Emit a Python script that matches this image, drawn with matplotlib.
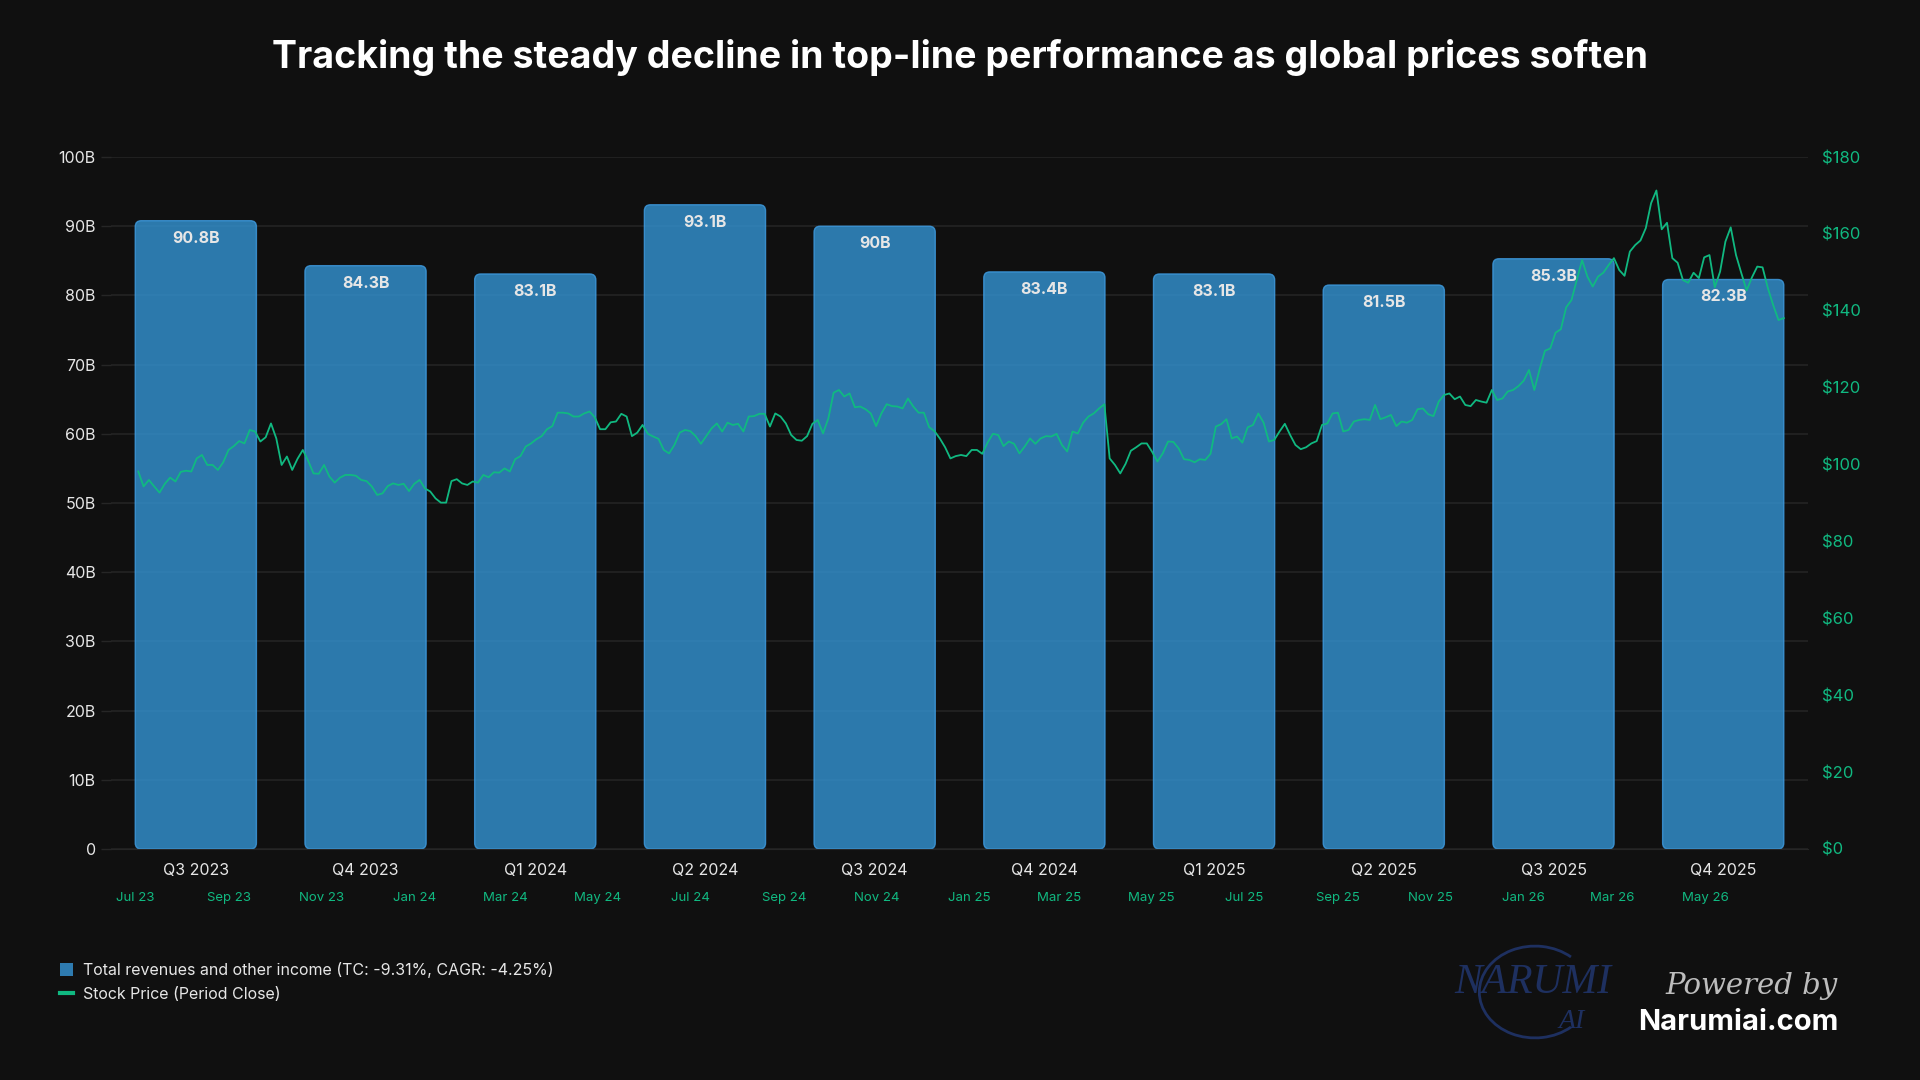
import matplotlib
matplotlib.use("Agg")
import matplotlib.pyplot as plt
import matplotlib.dates as mdates
from matplotlib.patches import Patch, Arc, FancyBboxPatch
from matplotlib.lines import Line2D
import pandas as pd
import numpy as np

plt.rcParams['font.family'] = ['Inter', 'DejaVu Sans']

# ---------------- data ----------------
quarters = ["Q3 2023", "Q4 2023", "Q1 2024", "Q2 2024", "Q3 2024",
            "Q4 2024", "Q1 2025", "Q2 2025", "Q3 2025", "Q4 2025"]
revenue_b = [90.8, 84.3, 83.1, 93.1, 90.0, 83.4, 83.1, 81.5, 85.3, 82.3]

price_start = "2023-07-03"
price_step = "84h"   # twice-weekly samples
stock_price = [
    98.2, 94.3, 96.0, 94.3, 92.7, 95.0, 96.6, 95.6, 98.1, 98.4,
    98.2, 101.6, 102.5, 99.9, 99.9, 98.6, 100.6, 103.8, 104.8, 106.1,
    105.5, 109.0, 108.6, 106.0, 107.1, 110.7, 106.8, 99.9, 102.1, 98.6,
    101.5, 103.8, 101.0, 97.7, 97.6, 99.9, 96.9, 95.3, 96.6, 97.3,
    97.3, 97.1, 96.0, 95.7, 94.3, 92.1, 92.5, 94.4, 95.1, 94.7,
    95.0, 93.1, 95.0, 96.0, 93.8, 93.0, 91.2, 90.1, 90.1, 95.7,
    96.2, 95.1, 94.7,
    95.6, 95.3, 97.3, 96.7, 98.0, 97.9, 99.0, 98.2, 101.4, 102.2,
    104.7, 105.5, 106.6, 107.4, 109.2, 110.0, 113.5, 113.5, 113.3, 112.5,
    112.5, 113.3, 113.8, 112.3, 109.2, 109.2, 111.0, 111.2, 113.2, 112.5,
    107.4, 108.3, 110.3, 108.0, 107.3, 106.7, 103.8, 102.9, 105.1, 108.3,
    109.0, 108.7, 107.4, 105.4, 107.4, 109.4, 110.7, 108.6, 110.9, 110.3,
    110.6, 108.6, 112.5, 112.6, 113.2, 113.2, 109.9, 113.3, 112.5, 110.7,
    107.7, 106.4,
    106.2, 107.4, 110.6, 111.6, 108.1, 112.0, 118.7, 119.4, 117.7, 118.5,
    114.9, 115.1, 114.4, 113.3, 110.0, 113.3, 115.7, 115.2, 115.1, 114.6,
    117.2, 115.1, 113.5, 113.5, 109.7, 108.7, 106.8, 104.5, 101.6, 102.2,
    102.5, 102.2, 103.8, 103.8, 102.8, 105.7, 108.0, 107.7, 104.8, 106.0,
    105.4, 102.9, 104.7, 106.8, 105.4, 106.8, 107.4, 107.3, 108.0, 105.1,
    103.4, 108.6, 108.1, 110.9, 112.5, 113.3, 114.6, 115.7, 101.6, 99.9,
    97.7, 100.2,
    103.6, 104.5, 105.5, 105.5, 103.3, 100.8, 102.9, 106.0, 105.9, 104.2,
    101.4, 101.2, 100.6, 101.4, 101.2, 102.8, 109.9, 110.5, 111.8, 106.8,
    107.3, 105.7, 109.7, 110.3, 113.3, 110.9, 106.0, 106.4, 108.6, 110.6,
    107.7, 105.1, 104.0, 104.5, 105.5, 106.1, 110.3, 110.7, 113.3, 113.5,
    108.6, 109.0, 111.2, 111.6, 111.8, 111.6, 115.5, 111.8, 112.3, 112.9,
    110.0, 111.2, 110.9, 111.6, 114.4, 114.6, 113.1, 112.6, 116.4, 118.1,
    118.5, 117.0,
    117.7, 115.5, 115.2, 116.8, 116.4, 116.1, 119.4, 116.8, 117.2, 119.0,
    119.4, 120.4, 121.8, 124.6, 119.4, 124.8, 129.6, 130.2, 134.3, 135.2,
    140.9, 142.8, 148.0, 153.2, 148.9, 146.3, 148.9, 149.9, 151.9, 153.7,
    150.6, 149.1, 155.4, 157.1, 158.3, 161.5, 168.0, 171.3, 161.2, 162.9,
    153.7, 152.5, 148.0, 147.3, 149.9, 148.5, 153.9, 154.5, 146.1, 150.2,
    158.0, 161.7, 154.5, 149.8, 145.3, 148.7, 151.5, 151.3, 145.9, 141.5,
    137.6, 138.1,
]
price_dates = pd.date_range(price_start, periods=len(stock_price), freq=price_step)

left_ticks = [0, 10, 20, 30, 40, 50, 60, 70, 80, 90, 100]
left_labels = ["0", "10B", "20B", "30B", "40B", "50B", "60B", "70B", "80B", "90B", "100B"]
right_ticks = [0, 20, 40, 60, 80, 100, 120, 140, 160, 180]
right_labels = ["$0", "$20", "$40", "$60", "$80", "$100", "$120", "$140", "$160", "$180"]
month_ticks = pd.date_range("2023-07-01", "2026-05-01", freq="2MS")
date_span_start = pd.Timestamp("2023-07-01")
date_span_end = pd.Timestamp("2026-06-22")

title = "Tracking the steady decline in top-line performance as global prices soften"
legend_bar = "Total revenues and other income (TC: -9.31%, CAGR: -4.25%)"
legend_line = "Stock Price (Period Close)"

# ---------------- style ----------------
BG = "#101010"
GRID = "#262626"
BAR = "#3391D0"
BAR_EDGE = "#3E9BE0"
GREEN = "#10B981"
TXT = "#E6E6E6"
BAR_W = 0.714

fig = plt.figure(figsize=(19.2, 10.8), dpi=100, facecolor=BG)
ax_rect = [0.0578, 0.2139, 0.8839, 0.6407]
ax = fig.add_axes(ax_rect)
ax.set_facecolor(BG)

x = np.arange(len(quarters))
ax.set_xlim(-0.5, len(quarters) - 0.5)
ax.set_ylim(0, 100)
ax.set_axisbelow(True)
ax.grid(axis="y", color=GRID, linewidth=1.1)
bars = ax.bar(x, revenue_b, width=BAR_W, color=BAR, alpha=0.82,
              edgecolor=BAR_EDGE, linewidth=1.0, zorder=2)

# rounded corners: replace rectangles with rounded boxes of the same extent
fig_w_px, fig_h_px = 1920, 1080
px_per_x = ax_rect[2] * fig_w_px / len(quarters)
px_per_y = ax_rect[3] * fig_h_px / 100.0
r_px = 6.0
for b in bars:
    b.set_visible(False)
    fb = FancyBboxPatch((b.get_x(), b.get_y()), b.get_width(), b.get_height(),
                        boxstyle=f"round,pad=0,rounding_size={r_px / px_per_x}",
                        mutation_aspect=px_per_x / px_per_y,
                        facecolor=BAR, alpha=0.82, edgecolor=BAR_EDGE,
                        linewidth=1.0, zorder=2)
    ax.add_patch(fb)

for xi, v in zip(x, revenue_b):
    lab = f"{v:.1f}".rstrip("0").rstrip(".") + "B"
    ax.annotate(lab, (xi, v), xytext=(0, -12.5), textcoords="offset points",
                ha="center", va="center", color=TXT, fontsize=11.5,
                fontweight="bold", zorder=5)

ax.set_yticks(left_ticks)
ax.set_yticklabels(left_labels)
ax.set_xticks(x)
ax.set_xticklabels(quarters)
ax.tick_params(axis="y", colors=GRID, labelcolor=TXT, labelsize=11.5, length=7, width=1, pad=4)
ax.tick_params(axis="x", length=0, labelcolor=TXT, labelsize=11.5, pad=10)
for s in ["top", "right", "left"]:
    ax.spines[s].set_visible(False)
ax.spines["bottom"].set_color(GRID)

# price axis
ax2 = ax.twinx()
ax2.set_ylim(0, 180)
ax2.set_yticks(right_ticks)
ax2.set_yticklabels(right_labels)
ax2.tick_params(axis="y", length=0, labelcolor=GREEN, labelsize=12, pad=10)
for s in ax2.spines.values():
    s.set_visible(False)

ax3 = ax2.twiny()
# map the date span onto the outer bar edges
n = len(quarters)
span_units = (n - 1) + BAR_W
days_per_unit = (date_span_end - date_span_start) / span_units
pad_units = 0.5 - BAR_W / 2
ax3.set_xlim(date_span_start - days_per_unit * pad_units, date_span_end + days_per_unit * pad_units)
ax3.plot(price_dates, stock_price, color=GREEN, linewidth=1.3, zorder=4)
ax3.xaxis.tick_bottom()
ax3.xaxis.set_label_position("bottom")
ax3.set_xticks(month_ticks)
ax3.xaxis.set_major_formatter(mdates.DateFormatter("%b %y"))
ax3.tick_params(axis="x", length=0, labelcolor=GREEN, labelsize=9.5, pad=31)
for s in ax3.spines.values():
    s.set_visible(False)

fig.suptitle(title, x=0.5, y=1 - 57 / 1080, va="center", color="white",
             fontsize=27, fontweight="bold")

handles = [Patch(facecolor="#2E7BB0", edgecolor="none"),
           Line2D([0], [0], color=GREEN, linewidth=3)]
leg = fig.legend(handles, [legend_bar, legend_line], loc="upper left",
                 bbox_to_anchor=(0.024, 1 - 948 / 1080), frameon=False,
                 fontsize=11.5, labelcolor=TXT, handlelength=0.8, handleheight=0.9,
                 handletextpad=0.6, labelspacing=0.55)

# branding
NAVY = "#1E3060"
fig.text(1533 / 1920, 1 - 983 / 1080, "NARUMI", color=NAVY, fontsize=30,
         family="Liberation Serif", style="italic", ha="center", va="center")
fig.text(1572 / 1920, 1 - 1022 / 1080, "AI", color=NAVY, fontsize=20,
         family="Liberation Serif", style="italic", ha="center", va="center")
arc = Arc((1535 / 1920, 1 - 992 / 1080), 0.058, 0.085, theta1=60, theta2=300,
          transform=fig.transFigure, color=NAVY, linewidth=2)
fig.add_artist(arc)
fig.text(1838 / 1920, 1 - 986 / 1080, "Powered by", color="#BDBDBD", fontsize=21,
         family="DejaVu Serif", style="italic", ha="right", va="center")
fig.text(1839 / 1920, 1 - 1023 / 1080, "Narumiai.com", color="white", fontsize=21,
         fontweight="bold", ha="right", va="center")

fig.savefig("out.png", dpi=100, facecolor=BG)
